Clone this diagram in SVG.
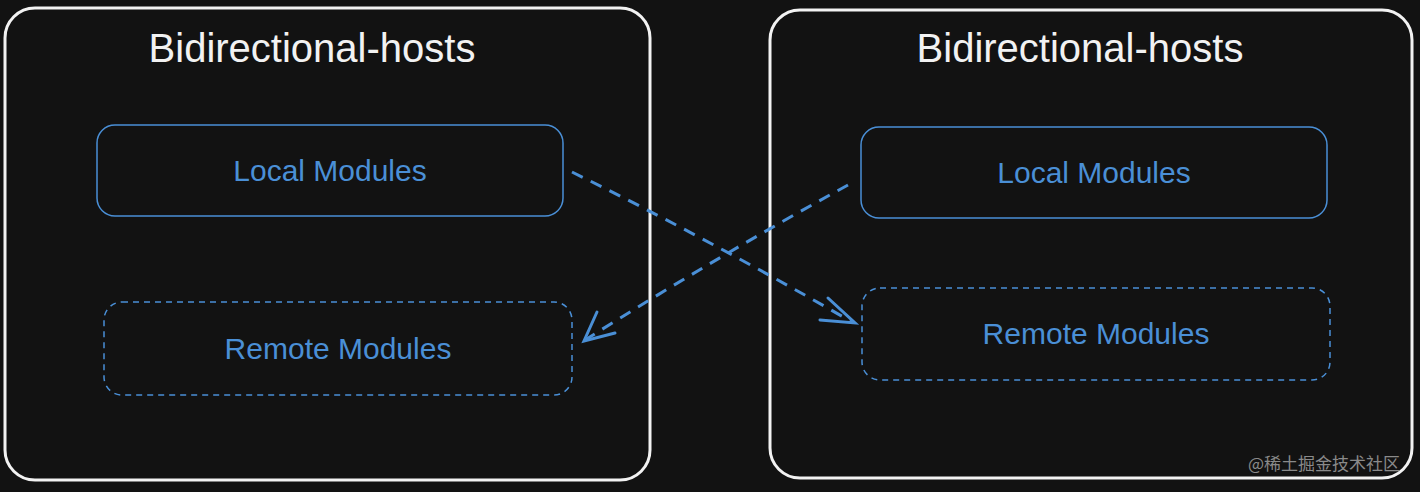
<svg xmlns="http://www.w3.org/2000/svg" width="1420" height="492" viewBox="0 0 1420 492">
<style>
.outer{fill:none;stroke:#f2f2f2;stroke-width:3}
.inner{fill:none;stroke:#4a8fd6;stroke-width:1.5}
.dash{stroke-dasharray:6 5}
.title{font-family:"Liberation Sans",sans-serif;font-size:40px;fill:#f2f2f2;text-anchor:middle}
.lbl{font-family:"Liberation Sans",sans-serif;font-size:30px;fill:#4a8fd6;text-anchor:middle}
.conn{fill:none;stroke:#4a8fd6;stroke-width:3;stroke-dasharray:12 9}
.head{fill:none;stroke:#4a8fd6;stroke-width:3;stroke-linecap:round}
</style>
<rect width="1420" height="492" fill="#121212"/>
<g id="host-left">
<rect class="outer" x="5" y="8" width="645" height="472" rx="30"/>
<text class="title" x="312" y="62">Bidirectional-hosts</text>
</g>
<g id="host-right">
<rect class="outer" x="770" y="10" width="642" height="468" rx="30"/>
<text class="title" x="1080" y="62">Bidirectional-hosts</text>
</g>
<g id="local-left">
<rect class="inner" x="97" y="125" width="466" height="91" rx="18"/>
<text class="lbl" x="330" y="181">Local Modules</text>
</g>
<g id="remote-left">
<rect class="inner dash" x="104" y="302" width="468" height="93" rx="18"/>
<text class="lbl" x="338" y="359">Remote Modules</text>
</g>
<g id="local-right">
<rect class="inner" x="861" y="127" width="466" height="91" rx="18"/>
<text class="lbl" x="1094" y="183">Local Modules</text>
</g>
<g id="remote-right">
<rect class="inner dash" x="862" y="288" width="468" height="92" rx="18"/>
<text class="lbl" x="1096" y="344">Remote Modules</text>
</g>
<g id="connectors">
<path class="conn" d="M572 172 Q710 240 852 322"/>
<path class="head" d="M828 298 L855 323 L820 320"/>
<path class="conn" d="M848 185 Q720 255 585 340"/>
<path class="head" d="M597 312 L584 341 L615 333"/>
</g>
<text x="1400" y="470" font-family="'Noto Sans CJK SC',sans-serif" font-size="17" fill="#8a8a8a" text-anchor="end">@稀土掘金技术社区</text>
</svg>
